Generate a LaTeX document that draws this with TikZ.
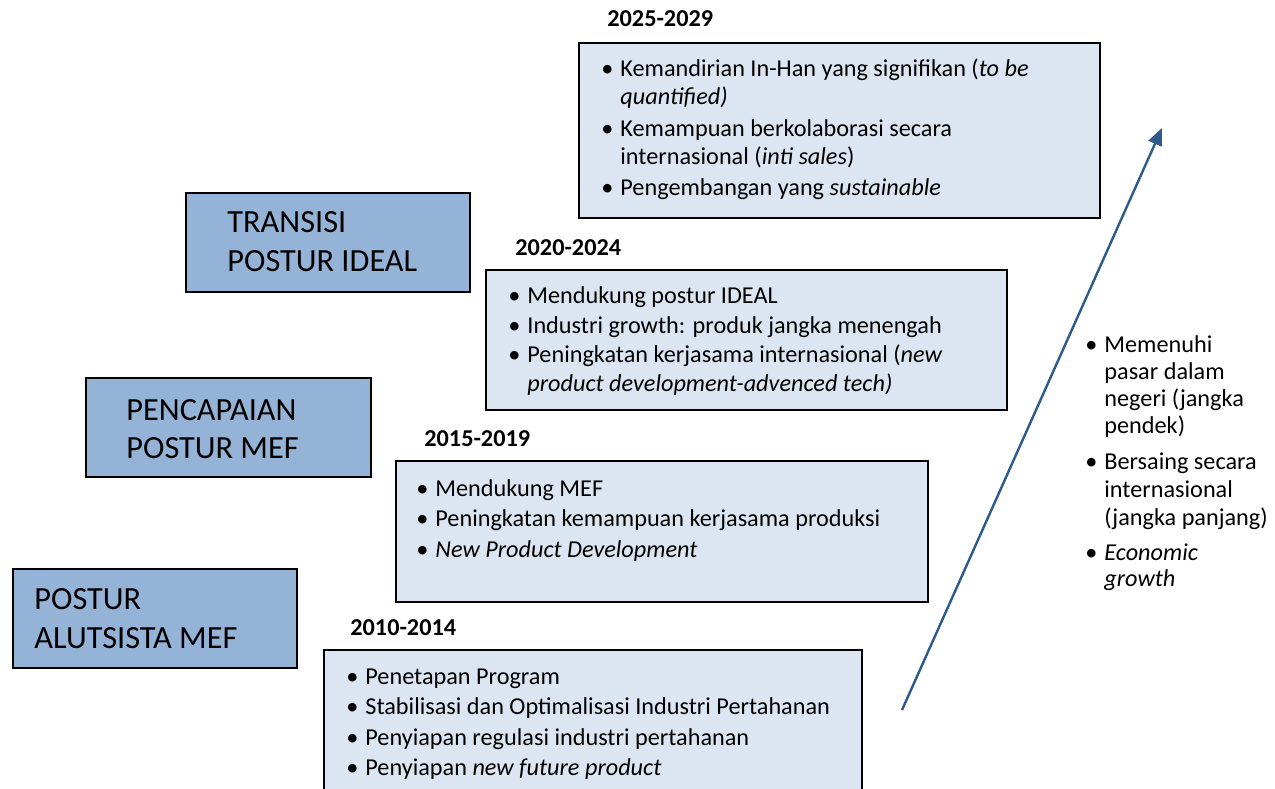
\documentclass[tikz,border=0pt]{standalone}
\usepackage{fontspec}
\setmainfont{Carlito}
\usetikzlibrary{arrows.meta}
\definecolor{posturfill}{HTML}{95B3D7}
\definecolor{phasefill}{HTML}{DCE6F2}
\definecolor{trendline}{HTML}{2E5B8C}
\newcommand\bulletmark{\llap{\textbullet\hspace{3.4pt}}}
\begin{document}
\begin{tikzpicture}[x=0.495pt,y=-0.495pt,
  posturbox/.style={draw=black,line width=1pt,fill=posturfill},
  phasebox/.style={draw=black,line width=1pt,fill=phasefill},
  posturtext/.style={anchor=base west,inner sep=0pt,font=\fontsize{16}{19.5}\selectfont},
  yeartext/.style={anchor=base west,inner sep=0pt,font=\bfseries\fontsize{12}{14}\selectfont},
  itemtext/.style={anchor=base west,inner sep=0pt,font=\fontsize{12}{14.5}\selectfont},
  trend/.style={draw=trendline,line width=1.2pt,-{Triangle[length=8.5pt,width=7pt]}}]
\useasboundingbox (0,0) rectangle (1275,789);

% posture stages (left column)
\path[posturbox] (186,193) rectangle (470,292);
\node[posturtext] (p3a) at (227,233) {TRANSISI};
\node[posturtext] (p3b) at (227,272) {POSTUR IDEAL};
\path[posturbox] (86,378) rectangle (371,477);
\node[posturtext] (p2a) at (126,420) {PENCAPAIAN};
\node[posturtext] (p2b) at (126,458) {POSTUR MEF};
\path[posturbox] (13,569) rectangle (297,668);
\node[posturtext] (p1a) at (34,609) {POSTUR};
\node[posturtext] (p1b) at (34,648) {ALUTSISTA MEF};

% 2025-2029
\node[yeartext] (ya) at (607,27) {2025-2029};
\path[phasebox] (579,43) rectangle (1100,218);
\node[itemtext] (a1) at (620,77) {\bulletmark Kemandirian In-Han yang signifikan (\textit{to be}};
\node[itemtext] (a2) at (620,105) {\textit{quantified)}};
\node[itemtext] (a3) at (620,137) {\bulletmark Kemampuan berkolaborasi secara};
\node[itemtext] (a4) at (620,165) {internasional (\textit{inti sales})};
\node[itemtext] (a5) at (620,196) {\bulletmark Pengembangan yang \textit{sustainable}};

% 2020-2024
\node[yeartext] (yb) at (515,255) {2020-2024};
\path[phasebox] (486,270) rectangle (1007,410);
\node[itemtext] (b1) at (527,304) {\bulletmark Mendukung postur IDEAL};
\node[itemtext] (b2) at (527,333) {\bulletmark Industri growth: produk jangka menengah};
\node[itemtext] (b3) at (527,362) {\bulletmark Peningkatan kerjasama internasional (\textit{new}};
\node[itemtext] (b4) at (527,391) {\textit{product development-advenced tech)}};

% 2015-2019
\node[yeartext] (yc) at (424,446) {2015-2019};
\path[phasebox] (396,461) rectangle (928,602);
\node[itemtext] (c1) at (435,496) {\bulletmark Mendukung MEF};
\node[itemtext] (c2) at (435,526) {\bulletmark Peningkatan kemampuan kerjasama produksi};
\node[itemtext] (c3) at (435,557) {\bulletmark \textit{New Product Development}};

% 2010-2014 (runs past the lower edge)
\node[yeartext] (yd) at (350,635) {2010-2014};
\fill[phasefill] (324,650) rectangle (862,789);
\draw[black,line width=1pt] (324,795) -- (324,650) -- (862,650) -- (862,795);
\node[itemtext] (d1) at (365,684) {\bulletmark Penetapan Program};
\node[itemtext] (d2) at (365,714) {\bulletmark Stabilisasi dan Optimalisasi Industri Pertahanan};
\node[itemtext] (d3) at (365,745) {\bulletmark Penyiapan regulasi industri pertahanan};
\node[itemtext] (d4) at (365,775) {\bulletmark Penyiapan \textit{new future product}};

% growth arrow
\coordinate (arrtail) at (902,710);
\coordinate (arrtip) at (1162,128);
\draw[trend] (arrtail) -- (arrtip);

% goals beside the arrow
\node[itemtext] (g1) at (1104,352) {\bulletmark Memenuhi};
\node[itemtext] (g2) at (1104,379) {pasar dalam};
\node[itemtext] (g3) at (1104,406) {negeri (jangka};
\node[itemtext] (g4) at (1104,433) {pendek)};
\node[itemtext] (g5) at (1104,469) {\bulletmark Bersaing secara};
\node[itemtext] (g6) at (1104,497) {internasional};
\node[itemtext] (g7) at (1104,525) {(jangka panjang)};
\node[itemtext] (g8) at (1104,560) {\bulletmark \textit{Economic}};
\node[itemtext] (g9) at (1104,586) {\textit{growth}};
\end{tikzpicture}
\end{document}
